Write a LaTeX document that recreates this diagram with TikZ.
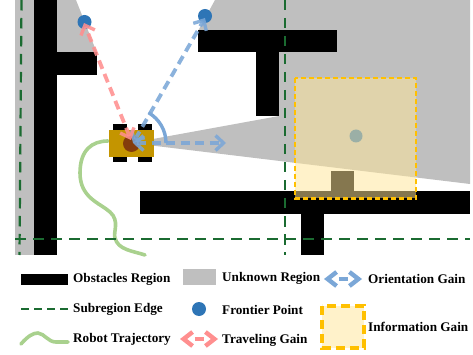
\documentclass[tikz,border=0pt]{standalone}
\usepackage{fontspec}
\setmainfont{Liberation Serif}
\usetikzlibrary{arrows.meta}
\definecolor{grayreg}{HTML}{BFBFBF}
\definecolor{edgegreen}{HTML}{1B6B31}
\definecolor{trajgreen}{HTML}{A9D18E}
\definecolor{dotblue}{HTML}{2E75B6}
\definecolor{orientblue}{HTML}{7BA7D7}
\definecolor{travelred}{HTML}{FF8F8F}
\definecolor{infoorange}{HTML}{FFC000}
\definecolor{infofill}{HTML}{FFE699}
\definecolor{robotbody}{HTML}{C49500}
\definecolor{robotcore}{HTML}{843C0C}
\tikzset{
  x=1pt,y=-1pt,
  obstacle/.style={fill=black,draw=none},
  unknown/.style={fill=grayreg,draw=none},
  edgeline/.style={draw=edgegreen,line width=2.2pt,dash pattern=on 10.5pt off 7.5pt},
  traj/.style={draw=trajgreen,line width=3.6pt,line cap=round},
  gainarrow/.style={line width=3.8pt,dash pattern=on 9pt off 5.5pt,draw opacity=.88,{Straight Barb[length=8pt,width=15pt,line width=3.4pt]}-{Straight Barb[length=8pt,width=15pt,line width=3.4pt]}},
  orient/.style={gainarrow,draw=orientblue},
  travel/.style={gainarrow,draw=travelred},
  legendarrow/.style={line width=4pt,draw opacity=1,dash pattern=on 0pt off 9pt on 9pt off 40pt,{Straight Barb[length=9pt,width=14pt,line width=4.4pt]}-{Straight Barb[length=9pt,width=14pt,line width=4.4pt]}},
  frontier/.style={circle,fill=dotblue,minimum size=14pt,inner sep=0pt},
  infobox/.style={fill=infofill,fill opacity=.52,draw=none},
  infoedge/.style={draw=infoorange,line width=2.4pt,dash pattern=on 5pt off 3pt},
  legendtext/.style={anchor=west,inner sep=0pt,font=\fontsize{13.2pt}{14pt}\selectfont\bfseries},
  wheel/.style={fill=black,draw=none},
}
\begin{document}
\begin{tikzpicture}
\useasboundingbox (0,0) rectangle (473,355);
% unknown regions
\fill[unknown] (15,0) rectangle (34,255);
\fill[unknown] (56,0) -- (76,0) -- (97,53) -- (56,53) -- cycle;
\fill[unknown] (215,0) -- (470,0) -- (470,184) -- (131,143) -- (279,116) -- (279,52) -- (198,31) -- cycle;
% obstacles
\fill[obstacle] (33.5,0) rectangle (56.5,255);
\fill[obstacle] (56,52.5) rectangle (96.5,75.5);
\fill[obstacle] (198,30) rectangle (337,52.5);
\fill[obstacle] (256,52) rectangle (279,116);
\fill[obstacle] (140,191) rectangle (470,214);
\fill[obstacle] (301,214) rectangle (324,255);
\fill[obstacle] (331,171) rectangle (354,192);
% frontier points
\node[frontier] (f1) at (84.5,22) {};
\node[frontier] (f2) at (205,16) {};
\node[frontier,minimum size=13pt] (f3) at (356,136) {};
% trajectory
\draw[traj] (108,141) .. controls (92,141) and (80,150) .. (80,173) .. controls (80,198) and (100,203) .. (110,212) .. controls (120,221) and (113,232) .. (115,238) .. controls (118,250) and (133,251) .. (145,255);
% subregion edges
\coordinate (va) at (21.5,0); \coordinate (vb) at (19.5,255);
\coordinate (vc) at (285,0); \coordinate (vd) at (285,255);
\coordinate (ha) at (15,239); \coordinate (hb) at (470,239);
\draw[edgeline] (va) -- (vb);
\draw[edgeline] (vc) -- (vd);
\draw[edgeline] (ha) -- (hb);
% information gain box
\fill[infobox] (295,78) rectangle (416,198.5);
\draw[infoedge] (295,78) rectangle (416,198.5);
% robot
\fill[wheel] (113,124.5) rectangle (127,131);
\fill[wheel] (138,124.5) rectangle (152,131);
\fill[wheel] (113,156) rectangle (127,162.5);
\fill[wheel] (138,156) rectangle (152,162.5);
\fill[robotbody] (109,130) rectangle (154,157);
\node[circle,fill=robotcore,minimum size=17pt,inner sep=0pt] (rc) at (131.5,143.5) {};
% gains
\coordinate (ot) at (133,143);
\coordinate (oh) at (226,143);
\coordinate (t1) at (84,23);
\coordinate (t2) at (205,18);
\coordinate (rt) at (131,140);
\draw[orient] (ot) -- (oh);
\draw[orient] (ot) -- (t2);
\draw[travel] (rt) -- (t1);
\draw[draw=orientblue,line width=3.4pt] (166,143) arc[start angle=0,end angle=-60,radius=35];
% legend
\fill[obstacle] (21,274) rectangle (68,285);
\node[legendtext] (l1) at (73,279) {Obstacles Region};
\fill[unknown] (183,269) rectangle (216,285);
\node[legendtext] (l2) at (222,278.5) {Unknown Region};
\coordinate (oa) at (324,279); \coordinate (ob) at (362,279);
\draw[orient,legendarrow] (oa) -- (ob);
\node[legendtext] (l3) at (368,278.5) {Orientation Gain};
\coordinate (ea) at (21,309); \coordinate (eb) at (68,309);
\draw[draw=edgegreen,line width=1.8pt,dash pattern=on 8pt off 5pt] (ea) -- (eb);
\node[legendtext] (l4) at (73,309.5) {Subregion Edge};
\node[frontier] (lf) at (199,309) {};
\node[legendtext] (l5) at (222,309.5) {Frontier Point};
\fill[infobox] (322,306) rectangle (364,348);
\draw[infoedge,line width=3.4pt,dash pattern=on 9pt off 5pt] (322,306) rectangle (364,348);
\node[legendtext] (l6) at (368,327) {Information Gain};
\draw[traj] (21,344) .. controls (28,336) and (33,333) .. (38,333) .. controls (45,334) and (48,342) .. (56,342) -- (68,342);
\node[legendtext] (l7) at (73,339) {Robot Trajectory};
\coordinate (ra) at (180,339); \coordinate (rb) at (218,339);
\draw[travel,legendarrow] (ra) -- (rb);
\node[legendtext] (l8) at (222,340) {Traveling Gain};
\end{tikzpicture}
\end{document}
